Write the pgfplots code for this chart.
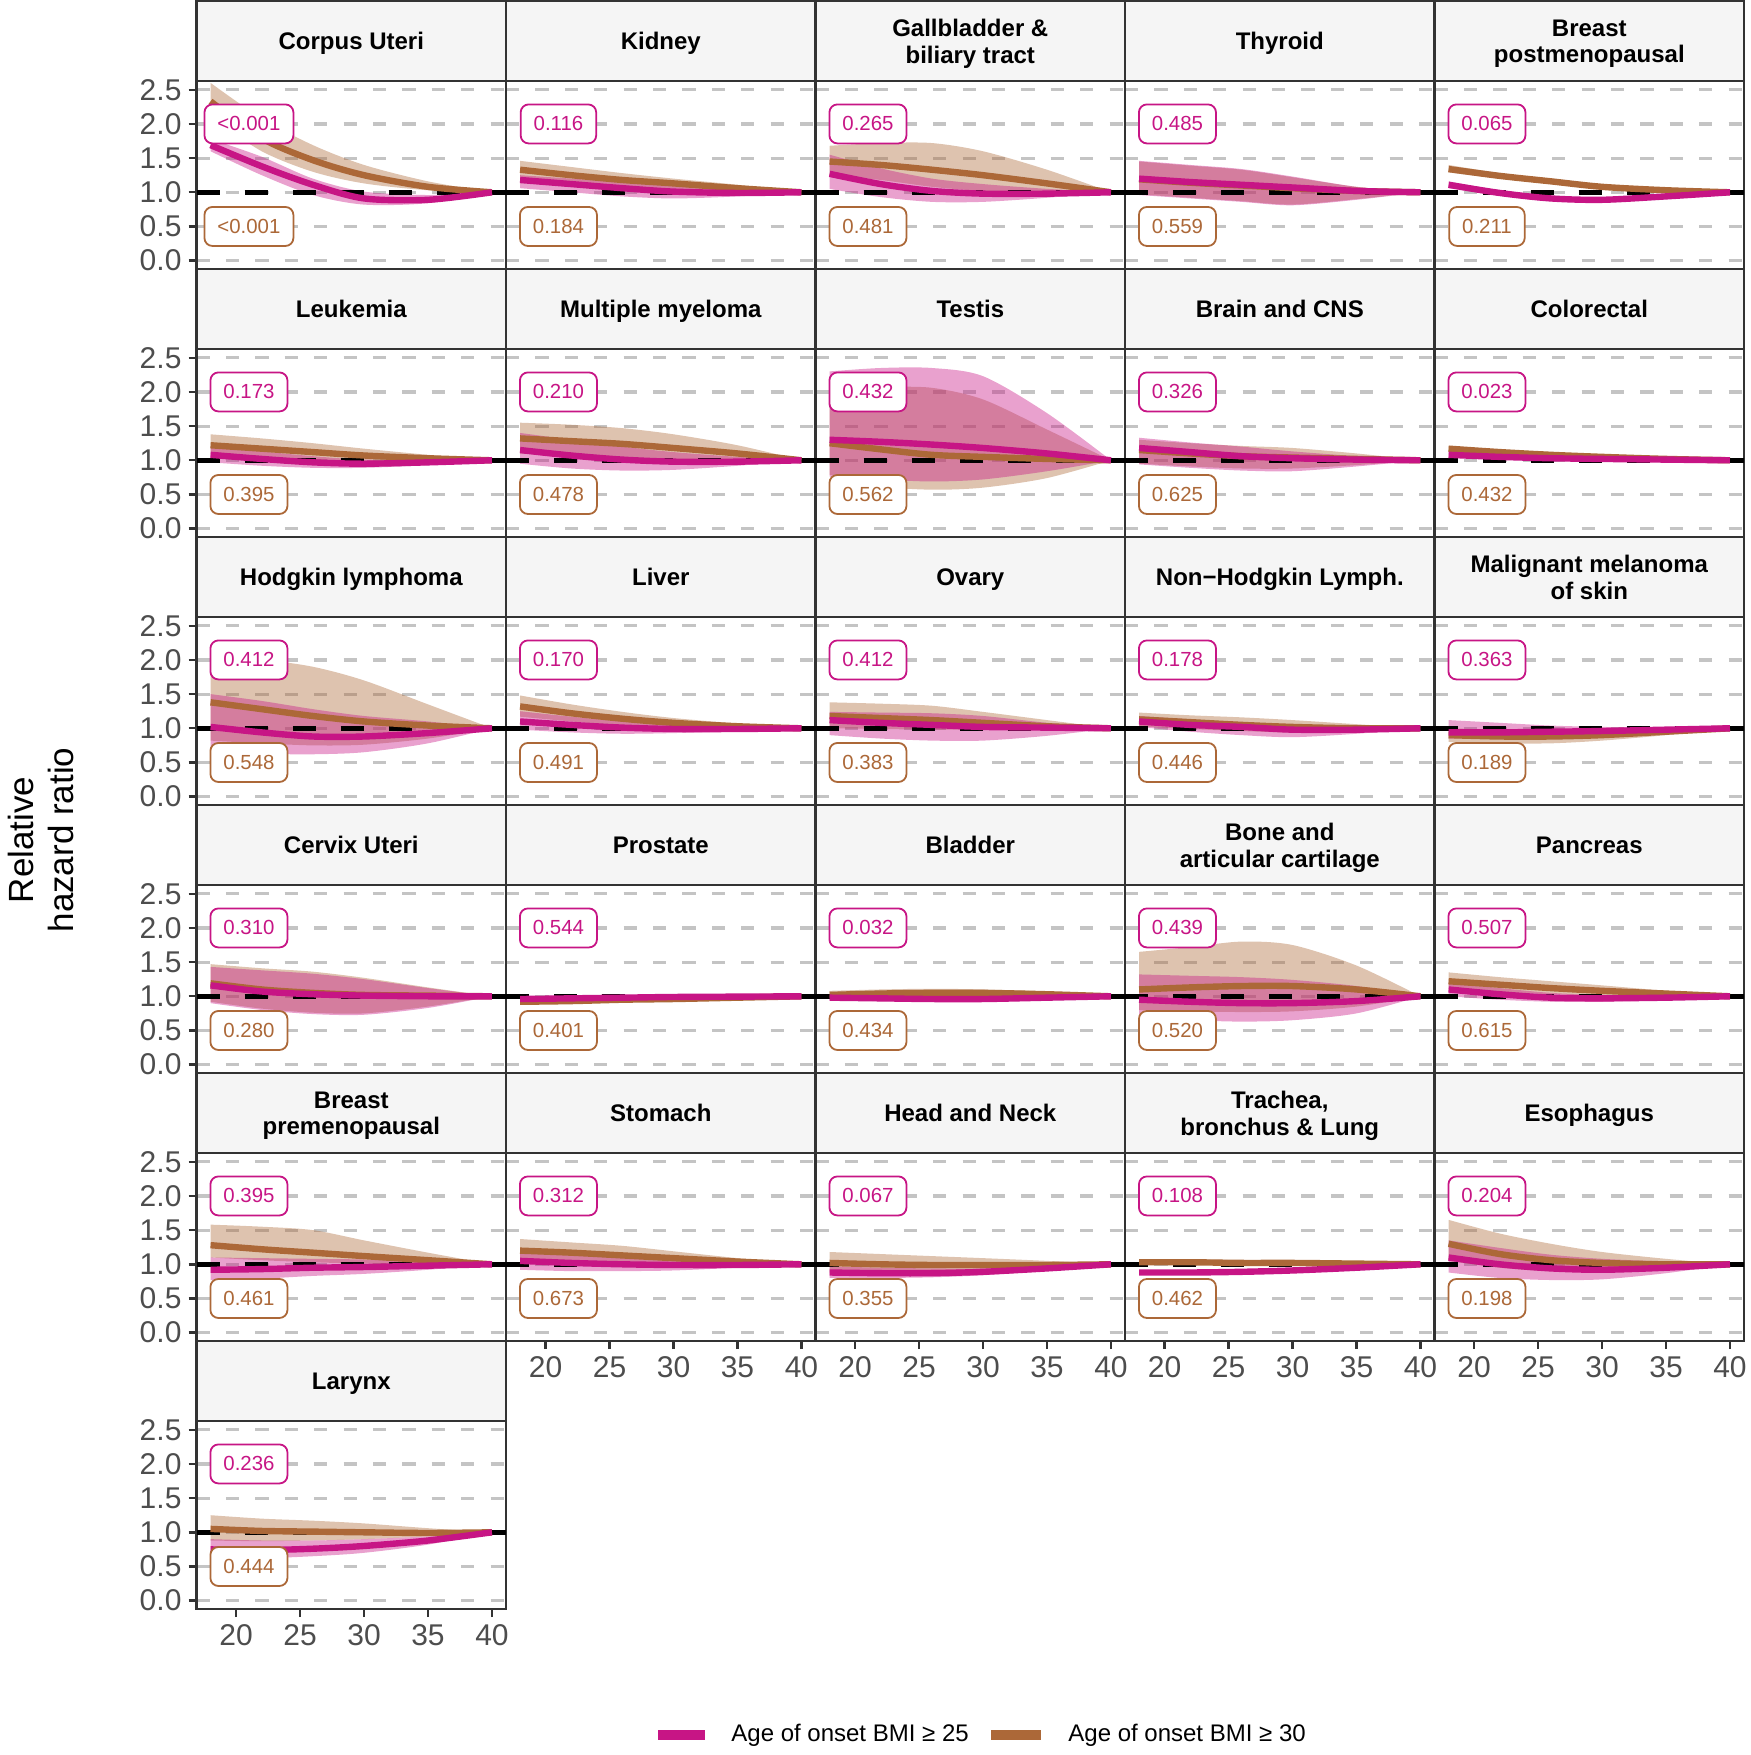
\documentclass[border=0pt]{standalone}
\usepackage{pgfplots}
\pgfplotsset{compat=1.18}
\usepackage{pgfplotstable}
\usepgfplotslibrary{fillbetween}
\usepackage{fontspec}
\setmainfont{Liberation Sans}

\definecolor{cM}{RGB}{199,21,133}
\definecolor{cB}{RGB}{172,104,56}
\definecolor{frame}{RGB}{51,51,51}
\definecolor{stripbg}{RGB}{245,245,245}
\definecolor{gridc}{RGB}{196,196,196}
\definecolor{tickc}{RGB}{77,77,77}

% columns: x, BMI>=25 (m, lo, hi), BMI>=30 (b, lo, hi)
\pgfplotstableread{
x m ml mh b bl bh
18 1.69 1.60 1.78 2.33 2.10 2.60
22 1.38 1.25 1.52 1.79 1.60 2.08
26 1.11 0.96 1.20 1.47 1.30 1.69
30 0.91 0.82 1.01 1.25 1.13 1.40
35 0.89 0.84 0.96 1.08 1.03 1.16
40 1 1 1 1 1 1
}\tCU
\pgfplotstableread{
x m ml mh b bl bh
18 1.18 1.06 1.25 1.33 1.15 1.46
22 1.12 1.00 1.20 1.25 1.10 1.37
26 1.06 0.94 1.15 1.18 1.05 1.28
30 1.01 0.91 1.10 1.13 1.02 1.20
35 0.99 0.94 1.04 1.06 1.01 1.11
40 1 1 1 1 1 1
}\tKid
\pgfplotstableread{
x m ml mh b bl bh
18 1.27 1.05 1.55 1.45 1.25 1.68
22 1.12 0.93 1.35 1.40 1.18 1.72
26 1.02 0.86 1.20 1.33 1.08 1.72
30 0.98 0.86 1.12 1.25 1.02 1.60
35 0.98 0.92 1.05 1.13 1.00 1.33
40 1 1 1 1 1 1
}\tGall
\pgfplotstableread{
x m ml mh b bl bh
18 1.20 0.96 1.46 1.19 0.97 1.45
22 1.15 0.91 1.40 1.14 0.92 1.39
26 1.11 0.86 1.34 1.10 0.87 1.33
30 1.07 0.81 1.23 1.06 0.82 1.22
35 1.02 0.89 1.08 1.02 0.90 1.08
40 1 1 1 1 1 1
}\tThy
\pgfplotstableread{
x m ml mh b bl bh
18 1.11 1.06 1.16 1.34 1.29 1.40
22 0.99 0.95 1.03 1.24 1.20 1.28
26 0.91 0.87 0.95 1.16 1.13 1.19
30 0.89 0.86 0.92 1.08 1.06 1.10
35 0.94 0.92 0.96 1.03 1.02 1.04
40 1 1 1 1 1 1
}\tBpost
\pgfplotstableread{
x m ml mh b bl bh
18 1.08 0.97 1.20 1.22 1.07 1.38
22 1.02 0.92 1.13 1.17 1.03 1.32
26 0.97 0.89 1.06 1.12 1.00 1.25
30 0.95 0.89 1.01 1.07 0.98 1.17
35 0.97 0.93 1.01 1.03 0.98 1.08
40 1 1 1 1 1 1
}\tLeu
\pgfplotstableread{
x m ml mh b bl bh
18 1.15 0.95 1.40 1.32 1.10 1.55
22 1.07 0.88 1.30 1.28 1.06 1.52
26 1.01 0.85 1.20 1.24 1.03 1.47
30 0.98 0.86 1.12 1.18 1.00 1.38
35 0.98 0.92 1.05 1.10 0.99 1.22
40 1 1 1 1 1 1
}\tMM
\pgfplotstableread{
x m ml mh b bl bh
18 1.30 0.76 2.30 1.25 0.79 2.13
22 1.27 0.72 2.35 1.16 0.62 2.08
26 1.23 0.69 2.35 1.08 0.57 2.06
30 1.18 0.72 2.23 1.05 0.60 1.89
35 1.10 0.84 1.69 1.02 0.74 1.45
40 1 1 1 1 1 1
}\tTes
\pgfplotstableread{
x m ml mh b bl bh
18 1.18 0.94 1.33 1.15 0.95 1.30
22 1.12 0.89 1.26 1.10 0.91 1.25
26 1.06 0.85 1.20 1.06 0.88 1.21
30 1.03 0.84 1.13 1.04 0.88 1.18
35 1.01 0.91 1.06 1.02 0.93 1.10
40 1 1 1 1 1 1
}\tBrain
\pgfplotstableread{
x m ml mh b bl bh
18 1.08 1.05 1.11 1.17 1.13 1.21
22 1.05 1.03 1.08 1.12 1.09 1.15
26 1.03 1.01 1.05 1.08 1.06 1.10
30 1.02 1.00 1.04 1.05 1.03 1.07
35 1.01 1.00 1.02 1.02 1.01 1.03
40 1 1 1 1 1 1
}\tCol
\pgfplotstableread{
x m ml mh b bl bh
18 1.02 0.68 1.50 1.38 0.82 2.00
22 0.94 0.63 1.40 1.28 0.78 2.00
26 0.88 0.62 1.28 1.18 0.75 1.90
30 0.88 0.65 1.18 1.10 0.76 1.70
35 0.93 0.78 1.10 1.04 0.85 1.35
40 1 1 1 1 1 1
}\tHod
\pgfplotstableread{
x m ml mh b bl bh
18 1.10 0.98 1.25 1.32 1.17 1.48
22 1.05 0.94 1.17 1.22 1.10 1.35
26 1.01 0.92 1.10 1.14 1.04 1.24
30 0.99 0.93 1.05 1.08 1.01 1.15
35 0.99 0.96 1.02 1.03 1.00 1.07
40 1 1 1 1 1 1
}\tLiv
\pgfplotstableread{
x m ml mh b bl bh
18 1.12 0.90 1.24 1.18 1.00 1.38
22 1.08 0.85 1.23 1.15 0.99 1.36
26 1.05 0.82 1.22 1.12 0.98 1.33
30 1.02 0.82 1.18 1.08 0.98 1.24
35 1.01 0.89 1.08 1.03 0.99 1.12
40 1 1 1 1 1 1
}\tOva
\pgfplotstableread{
x m ml mh b bl bh
18 1.10 1.02 1.18 1.13 1.03 1.23
22 1.05 0.95 1.13 1.09 0.99 1.19
26 1.02 0.90 1.09 1.05 0.96 1.16
30 0.98 0.87 1.05 1.02 0.94 1.12
35 0.98 0.92 1.02 1.00 0.96 1.06
40 1 1 1 1 1 1
}\tNHL
\pgfplotstableread{
x m ml mh b bl bh
18 0.94 0.85 1.12 0.90 0.80 1.00
22 0.94 0.86 1.08 0.88 0.78 0.98
26 0.95 0.88 1.04 0.88 0.78 0.98
30 0.96 0.91 1.02 0.90 0.82 0.98
35 0.98 0.95 1.01 0.95 0.90 0.99
40 1 1 1 1 1 1
}\tMel
\pgfplotstableread{
x m ml mh b bl bh
18 1.16 0.90 1.43 1.19 0.92 1.47
22 1.07 0.80 1.38 1.10 0.82 1.41
26 1.03 0.74 1.33 1.05 0.76 1.36
30 1.01 0.73 1.25 1.02 0.75 1.27
35 1.00 0.83 1.12 1.01 0.85 1.13
40 1 1 1 1 1 1
}\tCer
\pgfplotstableread{
x m ml mh b bl bh
18 0.96 0.94 0.98 0.92 0.90 0.95
22 0.97 0.95 0.99 0.93 0.91 0.96
26 0.98 0.96 1.00 0.95 0.93 0.97
30 0.99 0.97 1.00 0.96 0.95 0.98
35 0.995 0.99 1.00 0.98 0.97 0.99
40 1 1 1 1 1 1
}\tPro
\pgfplotstableread{
x m ml mh b bl bh
18 0.98 0.94 1.02 1.02 0.95 1.08
22 0.97 0.93 1.01 1.04 0.97 1.10
26 0.96 0.93 1.00 1.05 0.98 1.11
30 0.96 0.93 0.99 1.05 0.99 1.10
35 0.98 0.96 0.99 1.03 0.99 1.07
40 1 1 1 1 1 1
}\tBla
\pgfplotstableread{
x m ml mh b bl bh
18 0.95 0.68 1.32 1.10 0.80 1.65
22 0.92 0.65 1.30 1.13 0.78 1.72
26 0.90 0.63 1.28 1.15 0.77 1.80
30 0.90 0.65 1.24 1.15 0.78 1.75
35 0.93 0.75 1.15 1.10 0.85 1.45
40 1 1 1 1 1 1
}\tBone
\pgfplotstableread{
x m ml mh b bl bh
18 1.10 1.00 1.20 1.22 1.10 1.35
22 1.03 0.95 1.12 1.17 1.06 1.28
26 0.98 0.92 1.05 1.12 1.03 1.22
30 0.97 0.92 1.02 1.08 1.01 1.16
35 0.98 0.95 1.01 1.04 1.00 1.08
40 1 1 1 1 1 1
}\tPan
\pgfplotstableread{
x m ml mh b bl bh
18 0.92 0.77 1.10 1.28 1.10 1.58
22 0.93 0.79 1.09 1.22 1.06 1.55
26 0.95 0.83 1.08 1.17 1.03 1.50
30 0.96 0.86 1.07 1.12 1.01 1.35
35 0.98 0.92 1.04 1.06 1.00 1.17
40 1 1 1 1 1 1
}\tBpre
\pgfplotstableread{
x m ml mh b bl bh
18 1.05 0.92 1.18 1.20 1.05 1.37
22 1.02 0.90 1.15 1.17 1.03 1.32
26 1.00 0.90 1.11 1.13 1.01 1.27
30 0.99 0.91 1.07 1.09 1.00 1.19
35 0.99 0.95 1.03 1.04 1.00 1.09
40 1 1 1 1 1 1
}\tSto
\pgfplotstableread{
x m ml mh b bl bh
18 0.88 0.80 0.97 1.02 0.88 1.18
22 0.87 0.80 0.95 1.00 0.87 1.15
26 0.87 0.81 0.94 0.99 0.88 1.12
30 0.89 0.84 0.94 0.99 0.90 1.09
35 0.94 0.91 0.97 0.99 0.94 1.05
40 1 1 1 1 1 1
}\tHN
\pgfplotstableread{
x m ml mh b bl bh
18 0.88 0.85 0.91 1.03 0.99 1.07
22 0.88 0.85 0.91 1.03 0.99 1.07
26 0.89 0.86 0.92 1.02 0.99 1.06
30 0.91 0.89 0.93 1.02 0.99 1.05
35 0.95 0.94 0.96 1.01 0.99 1.03
40 1 1 1 1 1 1
}\tLun
\pgfplotstableread{
x m ml mh b bl bh
18 1.10 0.88 1.35 1.30 1.05 1.65
22 1.00 0.80 1.24 1.15 0.95 1.45
26 0.94 0.77 1.14 1.06 0.90 1.30
30 0.92 0.78 1.08 1.02 0.90 1.18
35 0.95 0.87 1.04 1.00 0.93 1.08
40 1 1 1 1 1 1
}\tEso
\pgfplotstableread{
x m ml mh b bl bh
18 0.75 0.62 0.90 1.05 0.88 1.25
22 0.74 0.62 0.88 1.02 0.87 1.20
26 0.76 0.65 0.88 1.01 0.88 1.17
30 0.80 0.70 0.90 1.00 0.90 1.13
35 0.88 0.82 0.94 0.99 0.94 1.06
40 1 1 1 1 1 1
}\tLar

\pgfplotsset{
  panel/.style={
    scale only axis, width=154.75pt, height=94pt,
    xmin=16.9, xmax=41.1, ymin=-0.125, ymax=2.625,
    xtick={20,25,30,35,40}, ytick={0,0.5,1,1.5,2,2.5},
    xticklabels={}, yticklabels={},
    xtick pos=bottom, ytick pos=left,
    tick align=outside, major tick length=4pt,
    x tick style={draw=none}, y tick style={draw=none},
    ymajorgrids,
    major grid style={draw=gridc, line width=1.6pt, dash pattern=on 6.6pt off 8.1pt},
    axis line style={draw=frame, line width=1.2pt},
    tick label style={font=\fontsize{15}{15}\selectfont, text=tickc},
    clip=false,
  },
  showx/.style={xticklabels={20,25,30,35,40}, x tick style={draw=frame, line width=1.2pt}},
  showy/.style={yticklabels={0.0,0.5,1.0,1.5,2.0,2.5}, y tick style={draw=frame, line width=1.2pt}},
}
\tikzset{
  pbox/.style={draw, rounded corners=4pt, fill=white, line width=0.9pt,
    inner xsep=6.5pt, inner ysep=0pt, minimum height=19.5pt,
    font=\fontsize{10.2}{12}\selectfont},
}

% #1 column, #2 row, #3 title, #4 table, #5 p (BMI>=25), #6 p (BMI>=30), #7 extra options
\newcommand{\panel}[7]{%
  \pgfmathsetmacro\pnlX{98.25+154.75*#1}%
  \pgfmathsetmacro\pnlY{-(0.6+134*#2)}%
  \pgfmathsetmacro\pnlYb{\pnlY-40}%
  \begin{axis}[panel, at={(\pnlX pt,\pnlYb pt)}, anchor=north west, #7]
    \addplot[black, line width=2.3pt, dash pattern=on 11.5pt off 12.5pt] coordinates {(16.9,1) (41.1,1)};
    % BMI>=30: ribbon, then line
    \addplot[name path=bl, draw=none, smooth] table[x=x,y=bl]{#4};
    \addplot[name path=bh, draw=none, smooth] table[x=x,y=bh]{#4};
    \addplot[fill=cB, fill opacity=0.4, draw=none] fill between[of=bl and bh];
    \addplot[cB, line width=3.2pt, smooth] table[x=x,y=b]{#4};
    % BMI>=25: ribbon, then line
    \addplot[name path=ml, draw=none, smooth] table[x=x,y=ml]{#4};
    \addplot[name path=mh, draw=none, smooth] table[x=x,y=mh]{#4};
    \addplot[fill=cM, fill opacity=0.4, draw=none] fill between[of=ml and mh];
    \addplot[cM, line width=3.2pt, smooth] table[x=x,y=m]{#4};
    \node[pbox, draw=cM, text=cM] at (axis cs:21,2) {#5};
    \node[pbox, draw=cB, text=cB] at (axis cs:21,0.5) {#6};
  \end{axis}
  \draw[fill=stripbg, draw=frame, line width=1.2pt] (\pnlX pt,\pnlY pt) rectangle ++(154.75pt,-40pt);
  \node[font=\fontsize{12}{13.4}\selectfont\bfseries, align=center, text depth=0pt]
    at (\pnlX pt+77.4pt,\pnlY pt-20pt) {#3};
}

\begin{document}
\begin{tikzpicture}
\panel{0}{0}{Corpus Uteri}{\tCU}{<0.001}{<0.001}{showy}
\panel{1}{0}{Kidney}{\tKid}{0.116}{0.184}{}
\panel{2}{0}{Gallbladder \&\\biliary tract}{\tGall}{0.265}{0.481}{}
\panel{3}{0}{Thyroid}{\tThy}{0.485}{0.559}{}
\panel{4}{0}{Breast\\postmenopausal}{\tBpost}{0.065}{0.211}{}

\panel{0}{1}{Leukemia}{\tLeu}{0.173}{0.395}{showy}
\panel{1}{1}{Multiple myeloma}{\tMM}{0.210}{0.478}{}
\panel{2}{1}{Testis}{\tTes}{0.432}{0.562}{}
\panel{3}{1}{Brain and CNS}{\tBrain}{0.326}{0.625}{}
\panel{4}{1}{Colorectal}{\tCol}{0.023}{0.432}{}

\panel{0}{2}{Hodgkin lymphoma}{\tHod}{0.412}{0.548}{showy}
\panel{1}{2}{Liver}{\tLiv}{0.170}{0.491}{}
\panel{2}{2}{Ovary}{\tOva}{0.412}{0.383}{}
\panel{3}{2}{Non−Hodgkin Lymph.}{\tNHL}{0.178}{0.446}{}
\panel{4}{2}{Malignant melanoma\\of skin}{\tMel}{0.363}{0.189}{}

\panel{0}{3}{Cervix Uteri}{\tCer}{0.310}{0.280}{showy}
\panel{1}{3}{Prostate}{\tPro}{0.544}{0.401}{}
\panel{2}{3}{Bladder}{\tBla}{0.032}{0.434}{}
\panel{3}{3}{Bone and\\articular cartilage}{\tBone}{0.439}{0.520}{}
\panel{4}{3}{Pancreas}{\tPan}{0.507}{0.615}{}

\panel{0}{4}{Breast\\premenopausal}{\tBpre}{0.395}{0.461}{showy}
\panel{1}{4}{Stomach}{\tSto}{0.312}{0.673}{showx}
\panel{2}{4}{Head and Neck}{\tHN}{0.067}{0.355}{showx}
\panel{3}{4}{Trachea,\\bronchus \& Lung}{\tLun}{0.108}{0.462}{showx}
\panel{4}{4}{Esophagus}{\tEso}{0.204}{0.198}{showx}

\panel{0}{5}{Larynx}{\tLar}{0.236}{0.444}{showy, showx}

\node[rotate=90, align=center, font=\fontsize{17.5}{20}\selectfont] at (20.5pt,-420pt) {Relative\\hazard ratio};

\draw[cM, line width=5pt] (329pt,-867.5pt) -- (352.5pt,-867.5pt);
\node[anchor=west, inner sep=0pt, font=\fontsize{12}{12}\selectfont] at (365.5pt,-867.5pt) {Age of onset BMI ≥ 25};
\draw[cB, line width=5pt] (495.5pt,-867.5pt) -- (520.5pt,-867.5pt);
\node[anchor=west, inner sep=0pt, font=\fontsize{12}{12}\selectfont] at (534pt,-867.5pt) {Age of onset BMI ≥ 30};
\pgfresetboundingbox
\useasboundingbox (0,0) rectangle (875pt,-877.5pt);
\end{tikzpicture}
\end{document}
